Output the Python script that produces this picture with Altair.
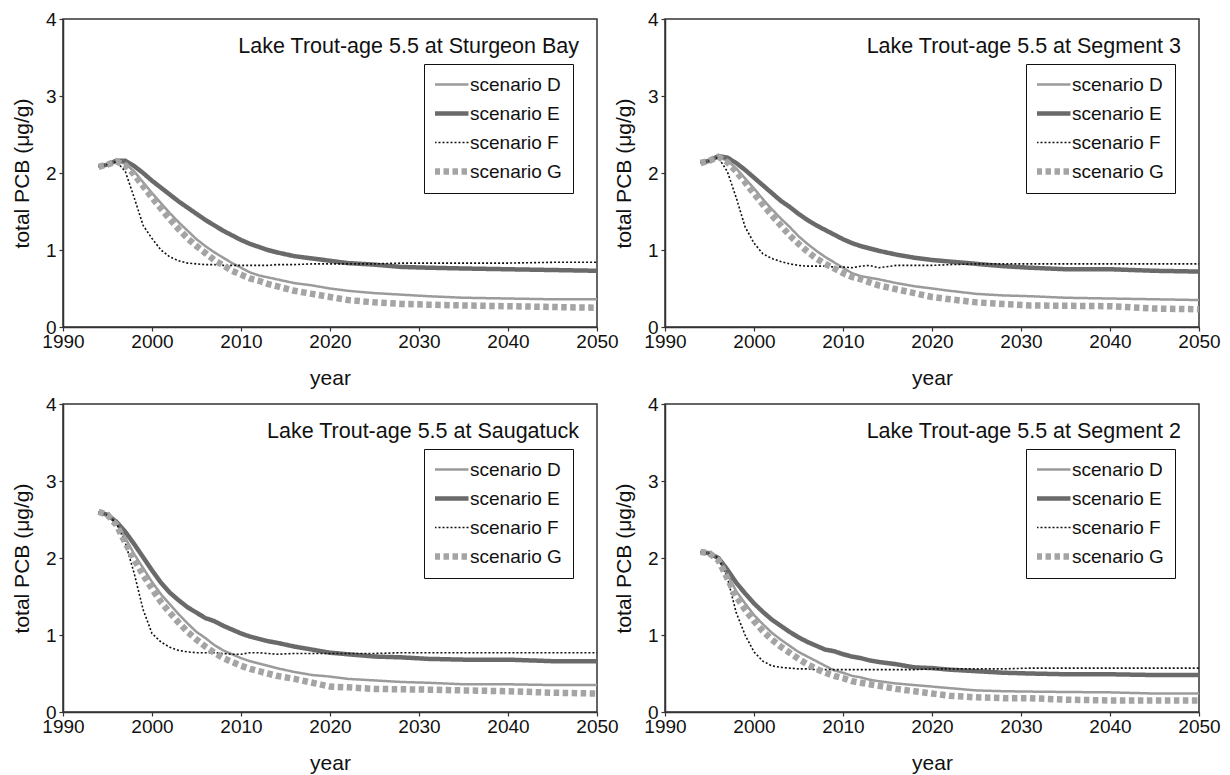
import altair as alt

# ---------------- data ----------------
YEARS = [1994, 1995, 1996, 1997, 1998, 1999, 2000, 2001, 2002, 2003, 2004,
         2005, 2006, 2007, 2008, 2009, 2010, 2011, 2012, 2013, 2014,
         2016, 2018, 2020, 2022, 2025, 2028, 2031, 2035, 2040, 2045, 2050]

SCENARIOS = ["scenario D", "scenario E", "scenario F", "scenario G"]

PANEL_TITLES = [
    "Lake Trout-age 5.5 at Sturgeon Bay",
    "Lake Trout-age 5.5 at Segment 3",
    "Lake Trout-age 5.5 at Saugatuck",
    "Lake Trout-age 5.5 at Segment 2",
]

# Sturgeon Bay
SB_D = [2.08, 2.11, 2.15, 2.12, 2.02, 1.88, 1.74, 1.61, 1.48, 1.36, 1.25, 1.14, 1.05, 0.97, 0.90, 0.83,
        0.77, 0.71, 0.67, 0.645, 0.62, 0.57, 0.54, 0.50, 0.47, 0.44, 0.42, 0.40, 0.38, 0.37, 0.36, 0.36]
SB_E = [2.08, 2.11, 2.16, 2.16, 2.09, 2.00, 1.90, 1.81, 1.72, 1.63, 1.55, 1.47, 1.39, 1.32, 1.25, 1.19,
        1.13, 1.08, 1.04, 1.00, 0.97, 0.92, 0.89, 0.86, 0.83, 0.81, 0.78, 0.77, 0.76, 0.75, 0.74, 0.73]
SB_F = [2.08, 2.11, 2.15, 2.02, 1.68, 1.32, 1.15, 1.00, 0.91, 0.86, 0.83, 0.82, 0.81, 0.81, 0.80, 0.80,
        0.80, 0.80, 0.80, 0.80, 0.81, 0.81, 0.82, 0.82, 0.82, 0.82, 0.83, 0.83, 0.83, 0.83, 0.84, 0.84]
SB_G = [2.08, 2.11, 2.15, 2.10, 1.98, 1.83, 1.68, 1.54, 1.40, 1.27, 1.15, 1.05, 0.96, 0.87, 0.80, 0.73,
        0.68, 0.63, 0.60, 0.56, 0.53, 0.47, 0.43, 0.39, 0.35, 0.32, 0.30, 0.29, 0.28, 0.27, 0.26, 0.25]

# Segment 3
S3_D = [2.13, 2.16, 2.21, 2.16, 2.06, 1.93, 1.80, 1.66, 1.53, 1.41, 1.30, 1.18, 1.08, 0.99, 0.91, 0.84,
        0.77, 0.70, 0.66, 0.64, 0.62, 0.57, 0.53, 0.50, 0.47, 0.43, 0.41, 0.40, 0.38, 0.37, 0.36, 0.35]
S3_E = [2.13, 2.16, 2.22, 2.20, 2.13, 2.04, 1.94, 1.84, 1.74, 1.64, 1.56, 1.47, 1.39, 1.32, 1.26, 1.20,
        1.14, 1.09, 1.05, 1.02, 0.99, 0.94, 0.90, 0.87, 0.85, 0.82, 0.79, 0.77, 0.75, 0.75, 0.73, 0.72]
S3_F = [2.13, 2.16, 2.20, 2.02, 1.68, 1.30, 1.09, 0.95, 0.89, 0.85, 0.82, 0.80, 0.79, 0.79, 0.79, 0.78,
        0.78, 0.77, 0.79, 0.80, 0.77, 0.80, 0.80, 0.80, 0.81, 0.82, 0.82, 0.82, 0.82, 0.82, 0.82, 0.82]
S3_G = [2.13, 2.16, 2.21, 2.14, 2.02, 1.88, 1.73, 1.59, 1.45, 1.32, 1.19, 1.08, 0.98, 0.89, 0.82, 0.76,
        0.70, 0.65, 0.62, 0.58, 0.54, 0.49, 0.44, 0.39, 0.36, 0.32, 0.30, 0.28, 0.275, 0.27, 0.24, 0.23]

# Saugatuck
SA_D = [2.60, 2.56, 2.45, 2.26, 2.05, 1.87, 1.69, 1.53, 1.40, 1.27, 1.15, 1.04, 0.96, 0.87, 0.80, 0.75,
        0.70, 0.66, 0.63, 0.60, 0.57, 0.52, 0.48, 0.46, 0.43, 0.41, 0.39, 0.38, 0.36, 0.36, 0.35, 0.35]
SA_E = [2.60, 2.56, 2.47, 2.34, 2.18, 2.01, 1.84, 1.68, 1.55, 1.45, 1.36, 1.29, 1.22, 1.18, 1.12, 1.07,
        1.02, 0.98, 0.95, 0.92, 0.90, 0.85, 0.81, 0.77, 0.75, 0.72, 0.71, 0.69, 0.68, 0.68, 0.66, 0.66]
SA_F = [2.60, 2.56, 2.45, 2.20, 1.80, 1.33, 1.02, 0.91, 0.84, 0.80, 0.78, 0.77, 0.77, 0.77, 0.76, 0.75,
        0.75, 0.77, 0.77, 0.76, 0.75, 0.76, 0.76, 0.76, 0.76, 0.76, 0.77, 0.77, 0.77, 0.77, 0.77, 0.77]
SA_G = [2.60, 2.56, 2.43, 2.20, 1.98, 1.78, 1.60, 1.43, 1.29, 1.16, 1.04, 0.94, 0.85, 0.77, 0.70, 0.65,
        0.60, 0.56, 0.53, 0.50, 0.47, 0.43, 0.38, 0.33, 0.32, 0.30, 0.295, 0.29, 0.28, 0.27, 0.25, 0.24]

# Segment 2
S2_D = [2.08, 2.06, 1.98, 1.79, 1.57, 1.41, 1.26, 1.14, 1.03, 0.94, 0.86, 0.78, 0.72, 0.66, 0.60, 0.54,
        0.51, 0.47, 0.45, 0.42, 0.40, 0.37, 0.35, 0.33, 0.31, 0.28, 0.27, 0.265, 0.26, 0.255, 0.24, 0.24]
S2_E = [2.08, 2.06, 2.00, 1.85, 1.68, 1.54, 1.41, 1.30, 1.20, 1.12, 1.04, 0.97, 0.91, 0.86, 0.81, 0.79,
        0.75, 0.72, 0.70, 0.67, 0.65, 0.62, 0.58, 0.57, 0.55, 0.53, 0.51, 0.50, 0.49, 0.49, 0.48, 0.48]
S2_F = [2.08, 2.06, 2.00, 1.75, 1.29, 1.00, 0.78, 0.66, 0.60, 0.58, 0.57, 0.56, 0.56, 0.55, 0.55, 0.55,
        0.55, 0.55, 0.55, 0.55, 0.55, 0.55, 0.55, 0.56, 0.56, 0.56, 0.56, 0.57, 0.57, 0.57, 0.57, 0.57]
S2_G = [2.08, 2.06, 1.97, 1.74, 1.50, 1.33, 1.18, 1.05, 0.94, 0.85, 0.77, 0.69, 0.62, 0.56, 0.51, 0.47,
        0.44, 0.40, 0.38, 0.36, 0.34, 0.30, 0.27, 0.24, 0.21, 0.19, 0.18, 0.18, 0.16, 0.15, 0.15, 0.15]

X_TICKS = [1990, 2000, 2010, 2020, 2030, 2040, 2050]
Y_TICKS = [0, 1, 2, 3, 4]

# ---------------- styles ----------------
COLORS = ["#9b9b9b", "#6a6a6a", "#111111", "#a4a4a4"]
DASHES = [[1, 0], [1, 0], [2, 2], [5.5, 3.5]]
WIDTHS = [2.5, 4.5, 1.6, 6.5]
FONT = "Liberation Sans"
W, H = 534, 308

width_expr = "(isValid(datum) && isValid(datum.value) ? [%s][indexof([%s], datum.value)] : 6.5)" % (
    ",".join(str(w) for w in WIDTHS),
    ",".join("'%s'" % s for s in SCENARIOS),
)


def make_legend():
    return alt.Legend(
        title=None,
        orient="none",
        legendX=361,
        legendY=45,
        strokeColor="#111111",
        fillColor="white",
        padding=11,
        rowPadding=9,
        clipHeight=19,
        symbolOffset=-4,
        labelOffset={"expr": "-2"},
        labelFontSize=19,
        labelFont=FONT,
        labelColor="#111111",
        symbolType="stroke",
        symbolSize=1156,
        symbolStrokeWidth={"expr": width_expr},
    )


def panel(title, series):
    rows = []
    for name, width, vals in zip(SCENARIOS, WIDTHS, series):
        for yr, v in zip(YEARS, vals):
            rows.append({"year": yr, "pcb": v, "scenario": name, "sw": width})
    legend = make_legend()
    lines = alt.Chart(alt.Data(values=rows)).mark_line(strokeCap="butt").encode(
        x=alt.X(
            "year:Q",
            scale=alt.Scale(domain=[1990, 2050], nice=False, zero=False),
            axis=alt.Axis(values=X_TICKS, format="d", title="year", labelFlush=False,
                          labelOverlap=False, minExtent=26, maxExtent=26, titlePadding=14,
                          tickSize=4, labelPadding=1),
        ),
        y=alt.Y(
            "pcb:Q",
            scale=alt.Scale(domain=[0, 4], nice=False),
            axis=alt.Axis(values=Y_TICKS, title="total PCB (μg/g)", minExtent=18, maxExtent=18,
                          titlePadding=13, tickSize=4, labelPadding=3),
        ),
        color=alt.Color("scenario:N", scale=alt.Scale(domain=SCENARIOS, range=COLORS), legend=legend),
        strokeDash=alt.StrokeDash("scenario:N", scale=alt.Scale(domain=SCENARIOS, range=DASHES),
                                  legend=legend),
        strokeWidth=alt.StrokeWidth("sw:Q", scale=None),
        order=alt.Order("year:Q"),
    )
    label = alt.Chart(alt.Data(values=[{"t": title}])).mark_text(
        align="right", baseline="alphabetic", fontSize=21.5, font=FONT, color="#111111"
    ).encode(x=alt.value(W - 18), y=alt.value(34), text="t:N")
    return alt.layer(lines, label).properties(width=W, height=H)


p1 = panel(PANEL_TITLES[0], [SB_D, SB_E, SB_F, SB_G])
p2 = panel(PANEL_TITLES[1], [S3_D, S3_E, S3_F, S3_G])
p3 = panel(PANEL_TITLES[2], [SA_D, SA_E, SA_F, SA_G])
p4 = panel(PANEL_TITLES[3], [S2_D, S2_E, S2_F, S2_G])

ind = dict(color="independent", strokeDash="independent")

chart = (
    alt.concat(p1, p2, p3, p4, columns=2, spacing={"row": 77, "column": 68}, bounds="flush")
    .resolve_scale(**ind)
    .resolve_legend(**ind)
    .properties(padding={"left": 2, "top": 1, "right": 0, "bottom": 0}, background="white")
    .configure_view(stroke="#333333", strokeWidth=1.5)
    .configure_axis(
        grid=False,
        labelFont=FONT,
        titleFont=FONT,
        labelFontSize=19,
        titleFontSize=21,
        titleFontWeight="normal",
        labelColor="#111111",
        titleColor="#111111",
        domainColor="#333333",
        domainWidth=1.5,
        tickColor="#333333",
        tickWidth=1.2,
    )
)

chart.save("out.html", embed_options={"renderer": "svg", "actions": False})
